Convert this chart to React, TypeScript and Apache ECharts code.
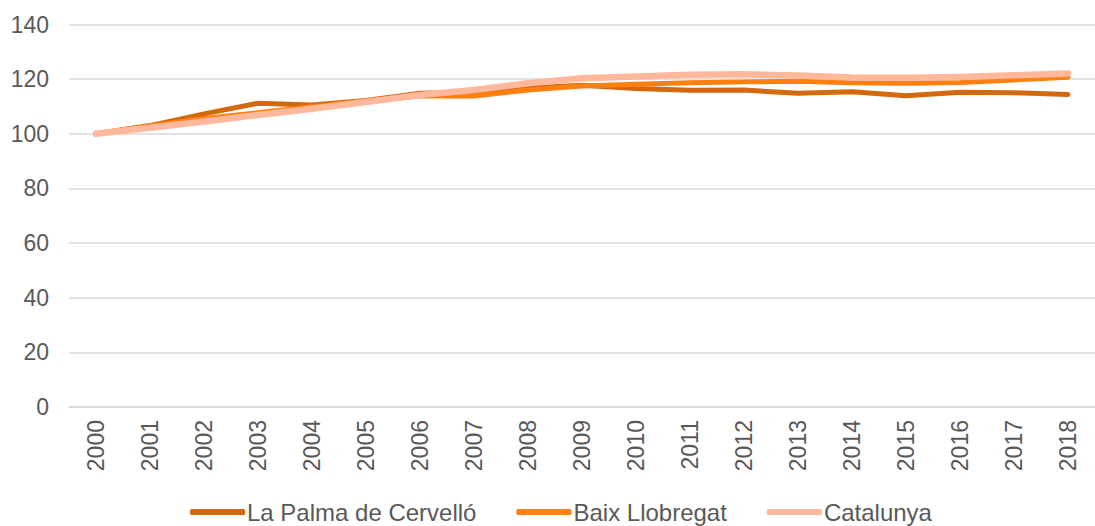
import React, { useEffect, useRef } from "react";
import * as echarts from "echarts";

const years = ["2000","2001","2002","2003","2004","2005","2006","2007","2008","2009","2010","2011","2012","2013","2014","2015","2016","2017","2018"];
const laPalma = [100, 103, 107.3, 111.2, 110.5, 112.2, 114.8, 115.3, 116.8, 117.8, 116.6, 115.9, 116.0, 114.8, 115.4, 113.9, 115.2, 115.0, 114.4];
const baixLlobregat = [100, 102.9, 105.6, 107.7, 109.9, 112.0, 113.8, 113.8, 116.0, 117.5, 118.1, 118.7, 119.0, 119.2, 118.7, 118.5, 118.8, 119.7, 120.7];
const catalunya = [100, 102.2, 104.5, 106.9, 109.2, 111.6, 114.2, 116.0, 118.5, 120.3, 121.0, 121.6, 121.8, 121.3, 120.6, 120.5, 120.8, 121.4, 122.1];
const seriesNames = ["La Palma de Cervelló", "Baix Llobregat", "Catalunya"];
const colors = ["#D5680B", "#FF7F0F", "#FFB89C"];
const widths = [5, 5, 6.5];

export default function App() {
  const ref = useRef<HTMLDivElement>(null);
  useEffect(() => {
    const chart = echarts.init(ref.current!, null, { renderer: "svg" });
    const dataSets = [laPalma, baixLlobregat, catalunya];
    chart.setOption({
      animation: false,
      textStyle: { fontFamily: "Liberation Sans, Arial, sans-serif" },
      grid: { left: 69, right: -2, top: 24.5, bottom: 119 },
      xAxis: {
        type: "category",
        data: years,
        boundaryGap: true,
        axisLine: { show: true, lineStyle: { color: "#d9d9d9", width: 1.5 } },
        axisTick: { show: false },
        axisLabel: { rotate: 90, fontSize: 23, color: "#595959", margin: 13 },
      },
      yAxis: {
        type: "value",
        min: 0,
        max: 140,
        interval: 20,
        axisLine: { show: false },
        axisTick: { show: false },
        splitLine: { lineStyle: { color: "#d9d9d9", width: 1.5 } },
        axisLabel: { fontSize: 23, color: "#595959", margin: 20 },
      },
      legend: {
        top: 500,
        left: 190,
        padding: 0,
        itemWidth: 55,
        itemHeight: 6,
        itemGap: 40,
        icon: "roundRect",
        textStyle: { fontSize: 24, color: "#595959", padding: [0, 0, 0, -3] },
        data: seriesNames,
      },
      series: dataSets.map((d, i) => ({
        name: seriesNames[i],
        type: "line",
        data: d,
        showSymbol: false,
        symbol: "none",
        color: colors[i],
        lineStyle: { color: colors[i], width: widths[i], cap: "round", join: "round" },
      })),
    });
    return () => chart.dispose();
  }, []);
  return (
    <div
      ref={ref}
      style={{ position: "absolute", left: 0, top: 0, width: 1095, height: 526 }}
    />
  );
}
